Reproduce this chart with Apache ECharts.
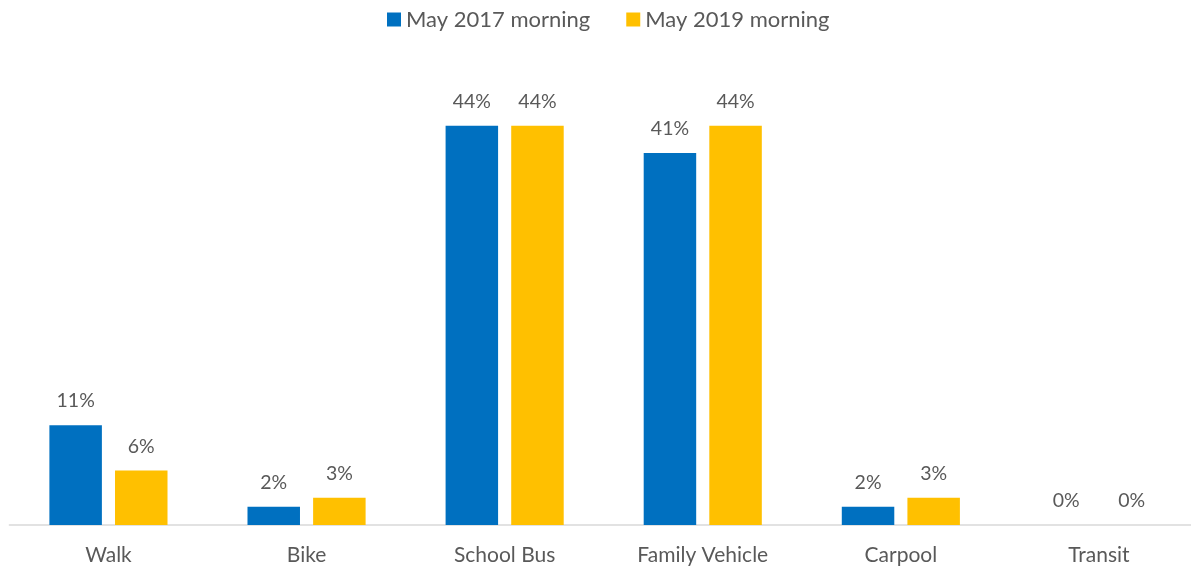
<!DOCTYPE html>
<html>
<head>
<meta charset="utf-8">
<script src="https://cdn.jsdelivr.net/npm/echarts@6/dist/echarts.min.js"></script>
<style>
  html, body { margin: 0; padding: 0; background: #fff; overflow: hidden; }
  /* the last category slot runs a few pixels past the right edge of the window */
  #chart { width: 1198px; height: 569px; }
</style>
</head>
<body>
<div id="chart"></div>
<script>
// Morning travel mode shares, by survey
const categories = ['Walk', 'Bike', 'School Bus', 'Family Vehicle', 'Carpool', 'Transit'];
const may2017 = [11, 2, 44, 41, 2, 0];
const may2019 = [6, 3, 44, 44, 3, 0];
const seriesNames = ['May 2017 morning', 'May 2019 morning'];

const textColor = '#595959';
const fontFamily = 'Lato, "Open Sans", sans-serif';

const chart = echarts.init(document.getElementById('chart'), null, { renderer: 'canvas' });

const labelStyle = {
  show: true,
  position: 'top',
  distance: 14,
  color: textColor,
  fontFamily: fontFamily,
  fontSize: 19.5,
  formatter: p => p.value + '%'
};

chart.setOption({
  animation: false,
  legend: {
    top: 3.5,
    left: 382,
    icon: 'rect',
    itemWidth: 14,
    itemHeight: 14,
    itemGap: 36,
    textStyle: { color: textColor, fontFamily: fontFamily, fontSize: 22 },
    data: seriesNames
  },
  grid: { left: 9.4, right: 0, top: 71.3, bottom: 44, containLabel: false },
  xAxis: {
    type: 'category',
    data: categories,
    axisLine: { show: true, lineStyle: { color: '#D9D9D9', width: 1.5 } },
    axisTick: { show: false },
    axisLabel: { color: textColor, fontFamily: fontFamily, fontSize: 21, margin: 20 }
  },
  yAxis: {
    type: 'value',
    min: 0,
    max: 50,
    show: false,
    splitLine: { show: false }
  },
  series: [
    {
      name: seriesNames[0],
      type: 'bar',
      data: may2017,
      barWidth: '26.5%',
      barGap: '25%',
      itemStyle: { color: '#0070C0' },
      label: labelStyle
    },
    {
      name: seriesNames[1],
      type: 'bar',
      data: may2019,
      barWidth: '26.5%',
      barGap: '25%',
      itemStyle: { color: '#FFC000' },
      label: labelStyle
    }
  ]
});
</script>
</body>
</html>
